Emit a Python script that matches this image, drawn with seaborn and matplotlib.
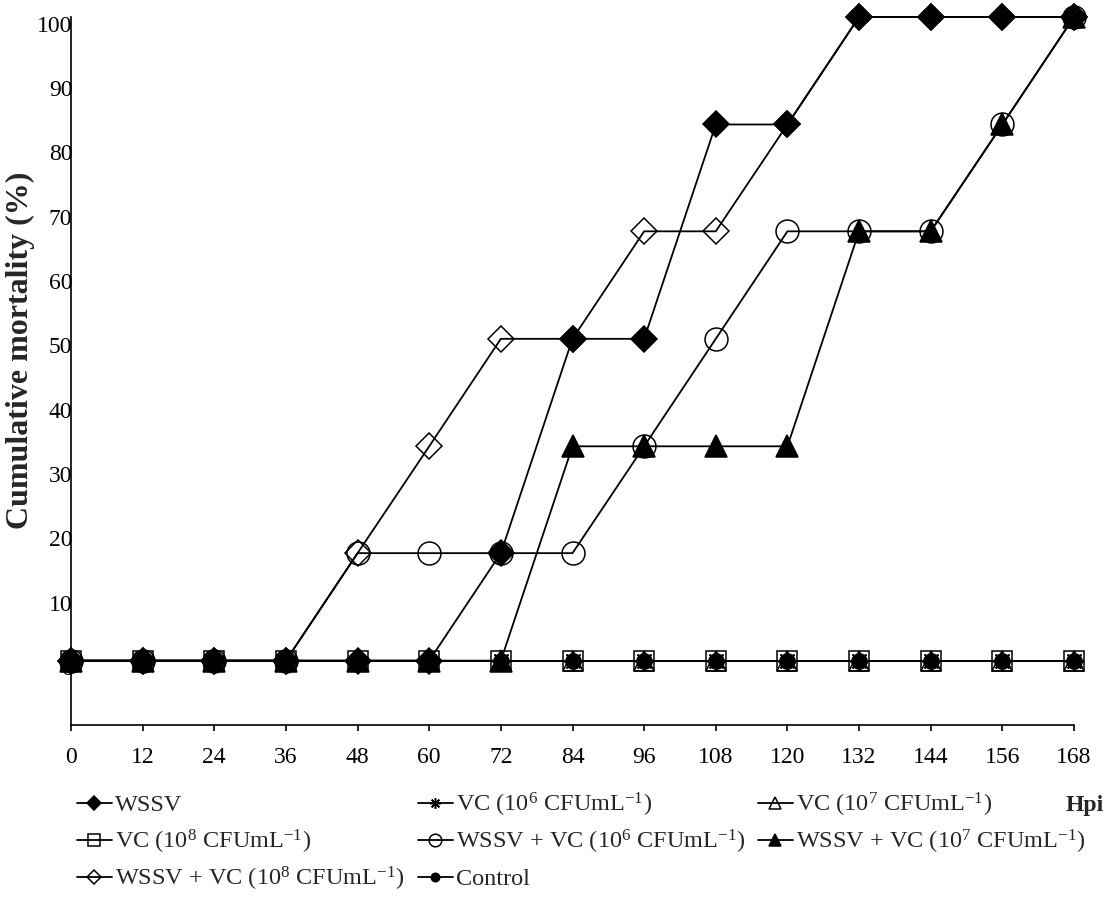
import matplotlib
matplotlib.use('Agg')
import matplotlib.pyplot as plt
import matplotlib.transforms as mtransforms
import seaborn as sns

# hours post infection
hours = [0, 12, 24, 36, 48, 60, 72, 84, 96, 108, 120, 132, 144, 156, 168]

# cumulative mortality (%)
wssv = [0, 0, 0, 0, 0, 0, 16.7, 50, 50, 83.3, 83.3, 100, 100, 100, 100]
vc6 = [0, 0, 0, 0, 0, 0, 0, 0, 0, 0, 0, 0, 0, 0, 0]
vc7 = [0, 0, 0, 0, 0, 0, 0, 0, 0, 0, 0, 0, 0, 0, 0]
vc8 = [0, 0, 0, 0, 0, 0, 0, 0, 0, 0, 0, 0, 0, 0, 0]
wssv_vc6 = [0, 0, 0, 0, 16.7, 16.7, 16.7, 16.7, 33.3, 50, 66.7, 66.7, 66.7, 83.3, 100]
wssv_vc7 = [0, 0, 0, 0, 0, 0, 0, 33.3, 33.3, 33.3, 33.3, 66.7, 66.7, 83.3, 100]
wssv_vc8 = [0, 0, 0, 0, 16.7, 33.3, 50, 50, 66.7, 66.7, 83.3, 100, 100, 100, 100]
control = [0, 0, 0, 0, 0, 0, 0, 0, 0, 0, 0, 0, 0, 0, 0]

labels = ['WSSV',
          r'VC (10$^{6}$ CFUmL$^{-1}$)',
          r'VC (10$^{7}$ CFUmL$^{-1}$)',
          r'VC (10$^{8}$ CFUmL$^{-1}$)',
          r'WSSV + VC (10$^{6}$ CFUmL$^{-1}$)',
          r'WSSV + VC (10$^{7}$ CFUmL$^{-1}$)',
          r'WSSV + VC (10$^{8}$ CFUmL$^{-1}$)',
          'Control']

sns.set_style('ticks')
plt.rcParams['font.family'] = ['Liberation Serif', 'DejaVu Serif']
plt.rcParams['mathtext.fontset'] = 'custom'
plt.rcParams['mathtext.rm'] = 'Liberation Serif'
plt.rcParams['mathtext.it'] = 'Liberation Serif:italic'
plt.rcParams['mathtext.bf'] = 'Liberation Serif:bold'

fig = plt.figure(figsize=(11.13, 9), dpi=100)
ax = fig.add_axes([71/1113, 175/900, 1003/1113, 708/900])

styles = [
    (wssv, 'D', 'black', 13),
    (vc6, (8, 2, 0), 'black', 14),
    (vc7, '^', 'none', 15),
    (vc8, 's', 'none', 15),
    (wssv_vc6, 'o', 'none', 16.5),
    (wssv_vc7, '^', 'black', 16),
    (wssv_vc8, 'D', 'none', 13.5),
    (control, 'o', 'black', 11),
]

for lab, (vals, mk, fc, ms) in zip(labels, styles):
    sns.lineplot(x=hours, y=vals, ax=ax, color='black', linewidth=1.3,
                 marker=mk, markersize=ms, markerfacecolor=fc,
                 markeredgecolor='black', markeredgewidth=1.1,
                 label=lab, clip_on=False)

ax.set_axisbelow(False)
ax.set_xlim(0, 168)
ax.set_ylim(-10, 100)
ax.set_xticks(hours)
ax.set_yticks(range(0, 101, 10))
ax.set_xlabel('')
ax.set_ylabel('')
sns.despine(ax=ax)
for s in ['left', 'bottom']:
    ax.spines[s].set_color('black')
    ax.spines[s].set_linewidth(1.2)
ax.tick_params(axis='x', direction='out', length=4, width=1.2, color='black',
               pad=12, labelsize=17, labelcolor='black')
ax.tick_params(axis='y', length=0, pad=-1, labelsize=17, labelcolor='black')
shift = mtransforms.ScaledTranslation(0, -0.065, fig.dpi_scale_trans)
for t in ax.get_yticklabels():
    t.set_transform(t.get_transform() + shift)

fig.text(20/1113, 1 - 350/900, 'Cumulative mortality (%)', rotation=90,
         ha='center', va='center', fontsize=23, fontweight='bold')
fig.text(1085/1113, 1 - 805/900, 'Hpi', ha='center', va='center',
         fontsize=17, fontweight='bold')

# excel style legend: equal-width columns, filled row by row
handles, labs = ax.get_legend_handles_labels()
ax.get_legend().remove()
col_x = [77, 418, 758]
row_y = [805, 842, 879]
legs = []
for i, (h, l) in enumerate(zip(handles, labs)):
    r, c = divmod(i, 3)
    leg = ax.legend([h], [l], loc='center left',
                    bbox_to_anchor=(col_x[c]/1113, 1 - row_y[r]/900),
                    bbox_transform=fig.transFigure, frameon=False,
                    fontsize=17.5, markerscale=0.55, handlelength=1.42,
                    handletextpad=0.15, borderpad=0, borderaxespad=0)
    legs.append(leg)
for leg in legs[:-1]:
    ax.add_artist(leg)

fig.savefig('out.png', dpi=100)
